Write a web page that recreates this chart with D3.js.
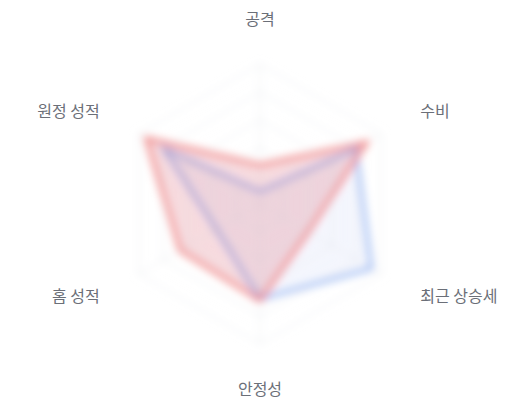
<!DOCTYPE html>
<html>
<head>
<meta charset="utf-8">
<script src="https://cdn.jsdelivr.net/npm/d3@7"></script>
<style>
  html, body { margin: 0; padding: 0; background: #fff; }
  svg { display: block; }
  .axis-label { font-family: "Noto Sans CJK KR", "Noto Sans", sans-serif; font-size: 16px; fill: #6b6f78; }
</style>
</head>
<body>
<svg class="svg-canvas" width="520" height="400"></svg>
<script>
// axes of the radar, clockwise from the top
var axes = ['공격', '수비', '최근 상승세', '안정성', '홈 성적', '원정 성적'];
// red team values (0-100)
var teamA = [28, 88, 40, 69, 66, 94];
// blue team values (0-100)
var teamB = [9, 79, 92, 68, 36, 79];
// grid levels
var levels = [20, 40, 60, 80, 100];

var w = 520, h = 400;
var cx = 260, cy = 204;
var R = 140;
var labelR = 185;

var svg = d3.select('.svg-canvas');

// radius scale
var r = d3.scaleLinear().domain([0, 100]).range([0, R]);
var angle = d3.scalePoint().domain(axes).range([0, 2 * Math.PI * (axes.length - 1) / axes.length]);

// the chart body is blurred in the reference
var defs = svg.append('defs');
defs.append('filter').attr('id', 'soft')
    .attr('x', '-20%').attr('y', '-20%').attr('width', '140%').attr('height', '140%')
    .append('feGaussianBlur').attr('stdDeviation', 4.2);

var plot = svg.append('g')
    .attr('transform', 'translate(' + cx + ',' + cy + ')')
    .attr('filter', 'url(#soft)');

var radial = d3.lineRadial()
    .angle(function(d, i){ return angle(axes[i]); })
    .radius(function(d){ return r(d); })
    .curve(d3.curveLinearClosed);

// grid hexagons
plot.selectAll('.grid')
    .data(levels)
    .enter()
    .append('path')
    .attr('d', function(l){ return radial(axes.map(function(){ return l; })); })
    .attr('fill', 'none')
    .attr('stroke', '#e6e8ec')
    .attr('stroke-width', 1);

// spokes
plot.selectAll('.spoke')
    .data(axes)
    .enter()
    .append('line')
    .attr('x1', 0).attr('y1', 0)
    .attr('x2', function(a){ return r(100) * Math.sin(angle(a)); })
    .attr('y2', function(a){ return -r(100) * Math.cos(angle(a)); })
    .attr('stroke', '#e6e8ec')
    .attr('stroke-width', 1);

// blue team
plot.append('path')
    .attr('d', radial(teamB))
    .attr('fill', 'rgba(96,140,235,0.08)')
    .attr('stroke', '#8fb0f0')
    .attr('stroke-width', 3.5);

// red team
plot.append('path')
    .attr('d', radial(teamA))
    .attr('fill', 'rgba(220,100,115,0.24)')
    .attr('stroke', '#f08888')
    .attr('stroke-width', 4);

// axis labels
svg.append('g').selectAll('text')
    .data(axes)
    .enter()
    .append('text')
    .classed('axis-label', true)
    .attr('x', function(a){ return cx + labelR * Math.sin(angle(a)); })
    .attr('y', function(a){ return cy - labelR * Math.cos(angle(a)); })
    .attr('dy', '0.35em')
    .attr('text-anchor', function(a){
        var s = Math.sin(angle(a));
        return Math.abs(s) < 0.01 ? 'middle' : (s > 0 ? 'start' : 'end');
    })
    .text(function(a){ return a; });
</script>
</body>
</html>
